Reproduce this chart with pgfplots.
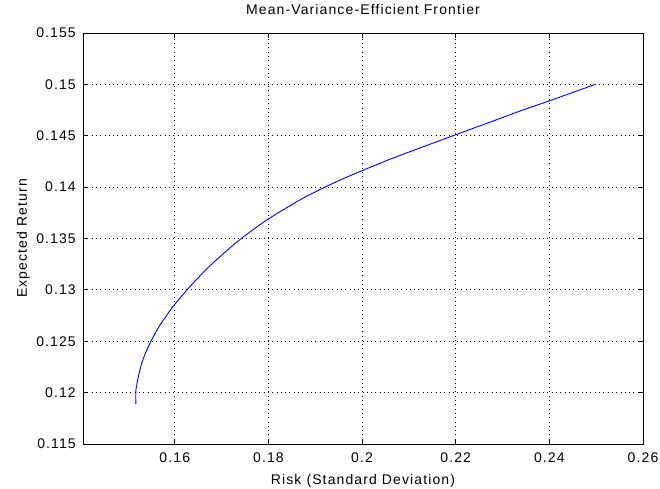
\documentclass[border=0pt]{standalone}
\usepackage{fontspec}
\setmainfont{Liberation Sans}[LetterSpace=8]
\usepackage{pgfplots}
\pgfplotsset{compat=1.18}
\begin{document}
\fontsize{14bp}{16bp}\selectfont
\begin{tikzpicture}
\path[use as bounding box] (-83bp,-45bp) rectangle (577bp,444bp);
\begin{axis}[
  width=560bp, height=411bp, scale only axis,
  xmin=0.1404, xmax=0.26, ymin=0.115, ymax=0.155,
  xtick={0.16,0.18,0.2,0.22,0.24,0.26},
  xticklabels={0.16,0.18,0.2,0.22,0.24,0.26},
  ytick={0.115,0.12,0.125,0.13,0.135,0.14,0.145,0.15,0.155},
  yticklabels={0.115,0.12,0.125,0.13,0.135,0.14,0.145,0.15,0.155},
  scaled ticks=false,
  tick align=inside,
  major tick length=5bp,
  every tick/.style={black, line width=0.8bp},
  axis line style={black, line width=0.8bp},
  grid=major,
  grid style={black, line width=0.8bp, dash pattern=on 1bp off 3.3bp},
  xticklabel style={anchor=north, inner sep=0pt, yshift=-9bp},
  yticklabel style={anchor=east, inner sep=0pt, xshift=-7bp},
  title={Mean-Variance-Efficient Frontier},
  title style={at={([yshift=12.5bp]axis description cs:0.5,1)}, anchor=base, inner sep=0pt},
  xlabel={Risk (Standard Deviation)},
  xlabel style={at={([yshift=-40bp]axis description cs:0.5,0)}, anchor=base, inner sep=0pt},
  ylabel={Expected Return},
  ylabel style={at={([xshift=-56bp]axis description cs:0,0.5)}, anchor=base, rotate=0, inner sep=0pt},
]
\addplot[color={rgb,255:red,0;green,0;blue,255}, line width=0.9bp, mark=none, smooth, tension=0.5] coordinates {
(0.1517, 0.1189)
(0.1517, 0.1202)
(0.1522, 0.1215)
(0.1529, 0.1228)
(0.1537, 0.1238)
(0.1549, 0.1250)
(0.1566, 0.1264)
(0.1584, 0.1276)
(0.1600, 0.1286)
(0.1636, 0.1305)
(0.1672, 0.1322)
(0.1708, 0.1337)
(0.1745, 0.1351)
(0.1800, 0.1369)
(0.1873, 0.1389)
(0.1944, 0.1405)
(0.2000, 0.1416)
(0.2059, 0.1427)
(0.2123, 0.1438)
(0.2200, 0.1451)
(0.2266, 0.1462)
(0.2337, 0.1474)
(0.2400, 0.1484)
(0.2498, 0.1500)
};
\end{axis}
\end{tikzpicture}
\end{document}
